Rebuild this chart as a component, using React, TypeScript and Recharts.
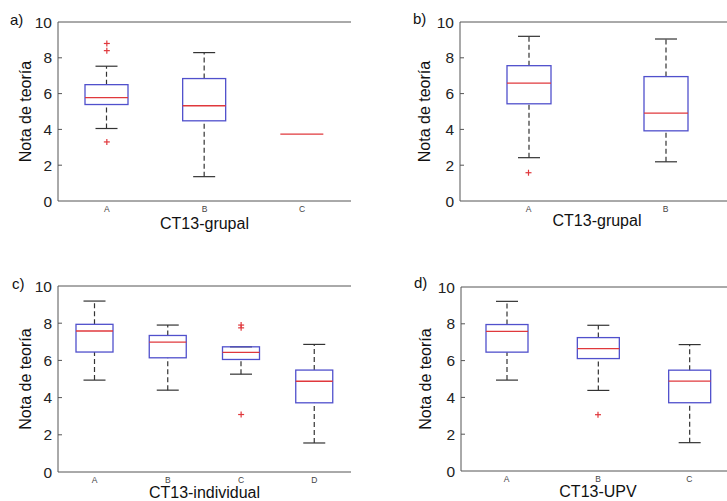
import React from 'react';
import { ComposedChart, Bar, Scatter, XAxis, YAxis, ReferenceLine } from 'recharts';

const FONT = '"Liberation Sans", Arial, Helvetica, sans-serif';

// a) CT13-grupal
const catsA = ['A', 'B', 'C'];
const lowA = [4.05, 1.36, 3.74];
const q1A = [5.39, 4.48, 3.74];
const medA = [5.78, 5.32, 3.74];
const q3A = [6.5, 6.84, 3.74];
const highA = [7.53, 8.29, 3.74];
const outA = [[8.8, 8.4, 3.3], [], []];

// b) CT13-grupal
const catsB = ['A', 'B'];
const lowB = [2.42, 2.19];
const q1B = [5.43, 3.92];
const medB = [6.58, 4.91];
const q3B = [7.56, 6.95];
const highB = [9.2, 9.05];
const outB = [[1.58], []];

// c) CT13-individual
const catsC = ['A', 'B', 'C', 'D'];
const lowC = [4.94, 4.4, 5.26, 1.56];
const q1C = [6.45, 6.14, 6.05, 3.72];
const medC = [7.58, 6.98, 6.43, 4.88];
const q3C = [7.94, 7.34, 6.73, 5.48];
const highC = [9.19, 7.9, 6.73, 6.86];
const outC = [[], [], [7.9, 7.75, 3.09], []];

// d) CT13-UPV
const catsD = ['A', 'B', 'C'];
const lowD = [4.94, 4.38, 1.54];
const q1D = [6.46, 6.11, 3.71];
const medD = [7.59, 6.65, 4.88];
const q3D = [7.96, 7.25, 5.48];
const highD = [9.22, 7.92, 6.87];
const outD = [[], [3.06], []];

const yTicks = [0, 2, 4, 6, 8, 10];

const FRAME = '#555';
const BLUE = '#5050cc';
const RED = '#e0383c';

const buildRows = (cats: string[], low: number[], q1: number[], med: number[], q3: number[], high: number[], out: number[][]) =>
  cats.map((name, i) => ({
    name,
    range: [low[i], high[i]],
    low: low[i],
    q1: q1[i],
    med: med[i],
    q3: q3[i],
    high: high[i],
    o0: out[i][0] ?? null,
    o1: out[i][1] ?? null,
    o2: out[i][2] ?? null,
  }));

const makeBoxShape = (capW: number) => (props: any) => {
  const { x, y, width, height, payload } = props;
  if (x == null || y == null) return <g />;
  const cx = x + width / 2;
  const top = Math.min(y, y + height);
  const bottom = Math.max(y, y + height);
  const span = payload.high - payload.low;
  const py = (v: number) => (span > 0 ? bottom - ((v - payload.low) / span) * (bottom - top) : bottom);
  return (
    <g>
      {span > 0 && (
        <g stroke="#333" strokeWidth={1.2}>
          <line x1={cx} x2={cx} y1={py(payload.low)} y2={py(payload.q1)} strokeDasharray="5 3" />
          <line x1={cx} x2={cx} y1={py(payload.q3)} y2={py(payload.high)} strokeDasharray="5 3" />
          <line x1={cx - capW / 2} x2={cx + capW / 2} y1={py(payload.low)} y2={py(payload.low)} />
          <line x1={cx - capW / 2} x2={cx + capW / 2} y1={py(payload.high)} y2={py(payload.high)} />
        </g>
      )}
      {span > 0 && (
        <rect x={x} y={py(payload.q3)} width={width} height={py(payload.q1) - py(payload.q3)} fill="none" stroke={BLUE} strokeWidth={1.3} />
      )}
      <line x1={x} x2={x + width} y1={py(payload.med)} y2={py(payload.med)} stroke={RED} strokeWidth={1.3} />
    </g>
  );
};

const Plus = (props: any) => {
  const { cx, cy } = props;
  if (cx == null || cy == null || isNaN(cx) || isNaN(cy)) return <g />;
  return (
    <g stroke={RED} strokeWidth={1.2}>
      <line x1={cx - 3} x2={cx + 3} y1={cy} y2={cy} />
      <line x1={cx} x2={cx} y1={cy - 3} y2={cy + 3} />
    </g>
  );
};

const LeftTick = (props: any) => {
  const { x, y, payload } = props;
  return (
    <g>
      <text x={x} y={y} dy="0.36em" textAnchor="end" fontSize={15.5} fill="#222" fontFamily={FONT}>
        {payload.value}
      </text>
      {payload.value > 0 && payload.value < 10 && <line x1={x + 6} x2={x + 10} y1={y} y2={y} stroke={FRAME} />}
    </g>
  );
};

const RightTick = (props: any) => {
  const { x, y, payload } = props;
  if (payload.value <= 0 || payload.value >= 10) return <g />;
  return <line x1={x - 4} x2={x} y1={y} y2={y} stroke={FRAME} />;
};

type PanelProps = {
  left: number;
  top: number;
  width: number;
  height: number;
  rows: any[];
  boxW: number;
  plotLeft: number;
  plotRight: number;
  plotTop: number;
  plotBottom: number;
  xLabel: string;
  xLabelBase: number;
  yLabelX: number;
};

const Panel = (p: PanelProps) => {
  const yAxisW = p.plotLeft - p.left;
  const xAxisH = p.top + p.height - p.plotBottom;
  return (
    <div style={{ position: 'absolute', left: p.left, top: p.top }}>
      <ComposedChart
        width={p.width}
        height={p.height}
        data={p.rows}
        margin={{ top: p.plotTop - p.top, right: p.left + p.width - p.plotRight, bottom: 0, left: 0 }}
      >
        <XAxis
          dataKey="name"
          interval={0}
          height={xAxisH}
          tickSize={0}
          tickMargin={5}
          tick={{ fontSize: 8.5, fill: '#444', fontFamily: FONT }}
          axisLine={{ stroke: FRAME }}
          label={{
            value: p.xLabel,
            position: 'insideBottom',
            offset: p.top + p.height - p.xLabelBase,
            fontSize: 16,
            fill: '#111',
            fontFamily: FONT,
          }}
        />
        <YAxis
          yAxisId="l"
          type="number"
          domain={[0, 10]}
          ticks={yTicks}
          width={yAxisW}
          tickSize={0}
          tickMargin={6}
          tick={<LeftTick />}
          axisLine={{ stroke: FRAME }}
          label={{
            value: 'Nota de teoría',
            angle: -90,
            position: 'insideLeft',
            offset: p.yLabelX - p.left,
            fontSize: 16,
            fill: '#111',
            fontFamily: FONT,
            style: { textAnchor: 'middle' },
          }}
        />
        <YAxis
          yAxisId="r"
          orientation="right"
          type="number"
          domain={[0, 10]}
          ticks={yTicks}
          width={0}
          tickSize={0}
          tickMargin={0}
          tick={<RightTick />}
          axisLine={{ stroke: FRAME }}
        />
        <ReferenceLine yAxisId="l" y={10} stroke={FRAME} />
        <Bar yAxisId="l" dataKey="range" barSize={p.boxW} shape={makeBoxShape(22)} isAnimationActive={false} />
        <Scatter yAxisId="l" dataKey="o0" shape={<Plus />} isAnimationActive={false} />
        <Scatter yAxisId="l" dataKey="o1" shape={<Plus />} isAnimationActive={false} />
        <Scatter yAxisId="l" dataKey="o2" shape={<Plus />} isAnimationActive={false} />
      </ComposedChart>
    </div>
  );
};

const panelLetters = [
  { t: 'a)', x: 10, y: 25 },
  { t: 'b)', x: 413, y: 24 },
  { t: 'c)', x: 12, y: 289 },
  { t: 'd)', x: 414, y: 288 },
];

export default function App() {
  return (
    <div style={{ position: 'absolute', left: 0, top: 0, width: 727, height: 501, background: '#fff', overflow: 'hidden' }}>
      <Panel
        left={0} top={0} width={360} height={250}
        rows={buildRows(catsA, lowA, q1A, medA, q3A, highA, outA)}
        boxW={43}
        plotLeft={58} plotRight={351} plotTop={22} plotBottom={201}
        xLabel="CT13-grupal" xLabelBase={229} yLabelX={25}
      />
      <Panel
        left={360} top={0} width={380} height={250}
        rows={buildRows(catsB, lowB, q1B, medB, q3B, highB, outB)}
        boxW={44}
        plotLeft={460} plotRight={734} plotTop={22} plotBottom={201}
        xLabel="CT13-grupal" xLabelBase={226} yLabelX={424}
      />
      <Panel
        left={0} top={250} width={360} height={251}
        rows={buildRows(catsC, lowC, q1C, medC, q3C, highC, outC)}
        boxW={37}
        plotLeft={58} plotRight={351} plotTop={286} plotBottom={472}
        xLabel="CT13-individual" xLabelBase={498} yLabelX={25}
      />
      <Panel
        left={360} top={250} width={380} height={251}
        rows={buildRows(catsD, lowD, q1D, medD, q3D, highD, outD)}
        boxW={42}
        plotLeft={461} plotRight={735} plotTop={287} plotBottom={471}
        xLabel="CT13-UPV" xLabelBase={497} yLabelX={425}
      />
      <svg width={727} height={501} style={{ position: 'absolute', left: 0, top: 0, pointerEvents: 'none' }}>
        {panelLetters.map((l) => (
          <text key={l.t} x={l.x} y={l.y} fontSize={15} fill="#111" fontFamily={FONT}>
            {l.t}
          </text>
        ))}
      </svg>
    </div>
  );
}
